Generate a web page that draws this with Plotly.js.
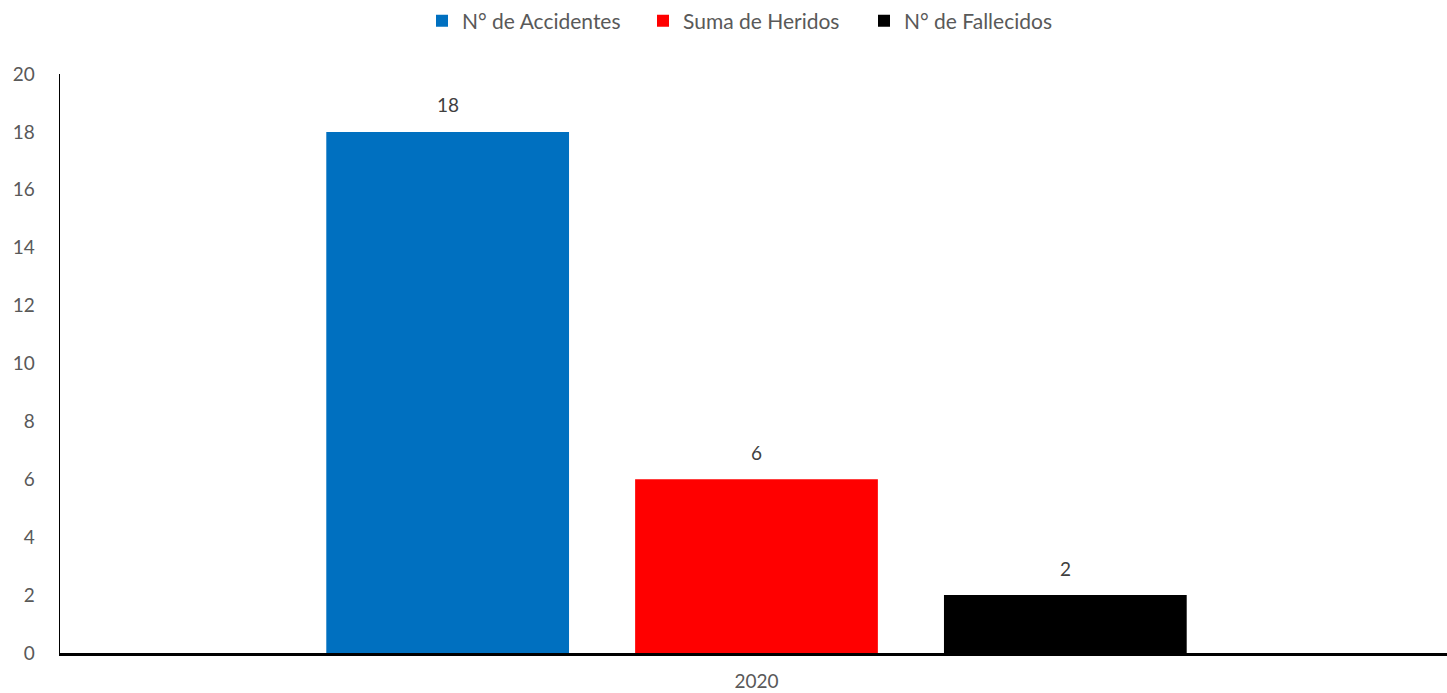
<!DOCTYPE html>
<html>
<head>
<meta charset="utf-8">
<script src="https://cdn.plot.ly/plotly-3.0.1.min.js"></script>
<style>html,body{margin:0;padding:0;background:#fff;}#chart{width:1447px;height:693px;}</style>
</head>
<body>
<div id="chart"></div>
<script>
const categories = ["2020"];
const seriesNames = ["N° de Accidentes", "Suma de Heridos", "N° de Fallecidos"];
const accidentes = [18];
const heridos = [6];
const fallecidos = [2];
const colors = ["#0070C0", "#FF0000", "#000000"];
const yTicks = [0, 2, 4, 6, 8, 10, 12, 14, 16, 18, 20];

const FONT = "Lato, 'Open Sans', sans-serif";
const values = [accidentes, heridos, fallecidos];
const traces = values.map((v, i) => ({
  type: "bar",
  name: seriesNames[i],
  x: categories,
  y: v,
  marker: {color: colors[i]},
  hoverinfo: "none"
}));

const bargap = 0.332, bargroupgap = 0.214;
const shift = 3 / 1387;
// data labels placed via annotations at each bar's slot centre
const annotations = [];
const nS = values.length;
const groupW = 1 - bargap;
values.forEach((v, i) => {
  v.forEach((val, j) => {
    const xc = j - groupW / 2 + groupW / nS * (i + 0.5);
    annotations.push({x: xc, y: val, xref: "x", yref: "y", text: String(val),
      showarrow: false, yshift: 27, font: {family: FONT, size: 19, color: "#404040"}});
  });
});

const layout = {
  width: 1447, height: 693,
  margin: {l: 60, r: 0, t: 74, b: 40, autoexpand: false},
  paper_bgcolor: "#fff", plot_bgcolor: "#fff",
  font: {family: FONT, size: 19, color: "#595959"},
  barmode: "group",
  bargap: bargap,
  bargroupgap: bargroupgap,
  showlegend: true,
  legend: {orientation: "h", x: 0.5, xanchor: "center", y: 1 - 21/693, yanchor: "middle",
           yref: "container", font: {family: FONT, size: 21, color: "#595959"},
           entrywidth: 176, entrywidthmode: "pixels", itemwidth: 30, traceorder: "normal"},
  annotations: annotations,
  xaxis: {type: "category", range: [-0.5 - shift, 0.5 - shift], autorange: false,
          showgrid: false, zeroline: false, showline: true, linecolor: "#000", linewidth: 2.5,
          ticks: "", automargin: false,
          tickfont: {family: FONT, size: 19, color: "#595959"}, ticklabelstandoff: 10},
  yaxis: {range: [0, 20], autorange: false, tickvals: yTicks, showgrid: false, zeroline: false,
          showline: true, linecolor: "#000", linewidth: 1.5, ticks: "", automargin: false,
          tickfont: {family: FONT, size: 19, color: "#595959"}, ticklabelstandoff: 20}
};

Plotly.newPlot("chart", traces, layout, {displayModeBar: false, staticPlot: true});
</script>
</body>
</html>
